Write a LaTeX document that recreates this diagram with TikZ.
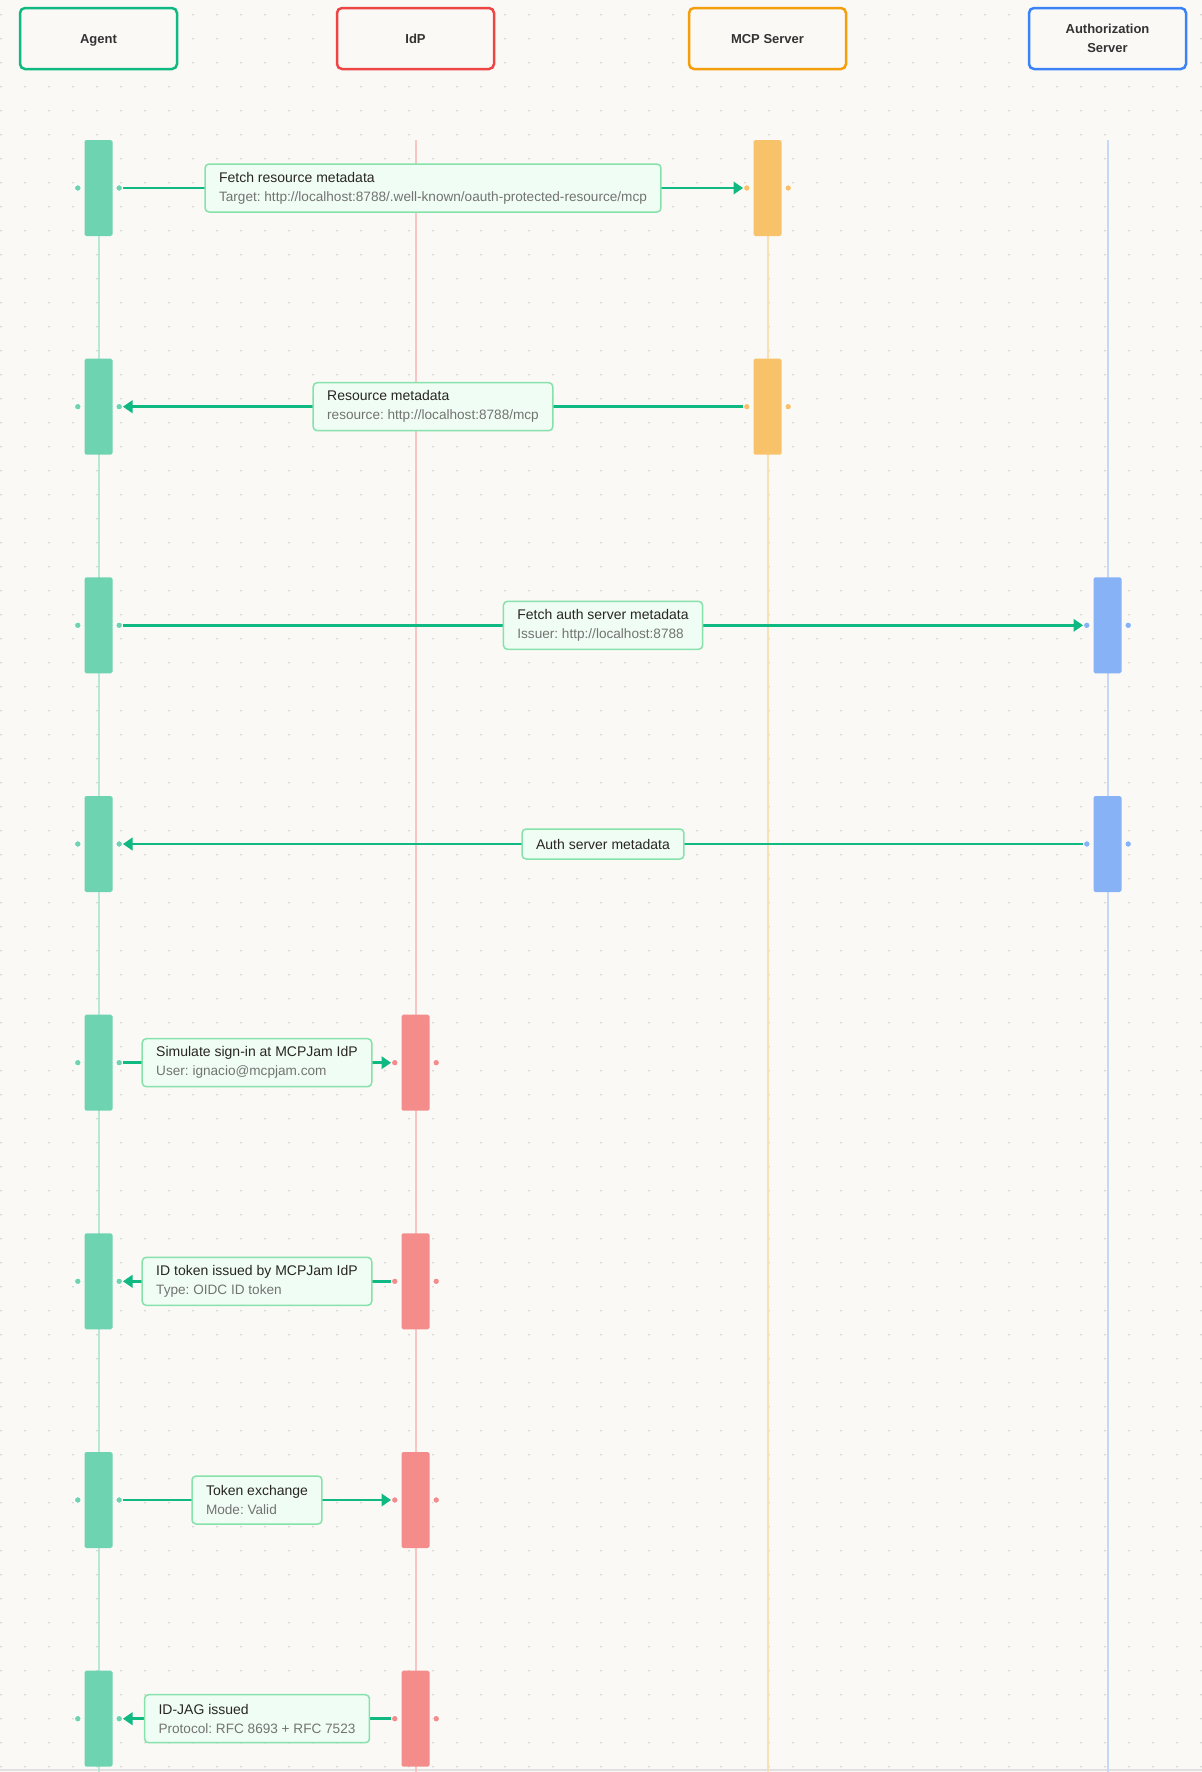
\documentclass[tikz,border=0pt]{standalone}
\usepackage{fontspec}
\setmainfont{Liberation Sans}
\frenchspacing
\usetikzlibrary{arrows.meta, positioning}
\definecolor{canvas}{RGB}{250,249,246}
\definecolor{griddot}{RGB}{204,204,202}
\definecolor{agentgreen}{RGB}{16,185,129}
\definecolor{idpred}{RGB}{239,68,68}
\definecolor{mcporange}{RGB}{245,158,11}
\definecolor{authblue}{RGB}{59,130,246}
\definecolor{notefill}{RGB}{240,253,244}
\definecolor{noteedge}{RGB}{134,226,170}
\definecolor{titletext}{RGB}{41,37,36}
\definecolor{subtext}{RGB}{115,115,115}
\definecolor{headtext}{RGB}{51,51,51}

\begin{document}
\begin{tikzpicture}[x=0.5pt, y=-0.5pt]
    % Define styles
    \tikzstyle{actorbox} = [rectangle, draw, line width=1.25pt, rounded corners=2.5pt,
                            fill=canvas, minimum width=78.5pt, minimum height=30.5pt,
                            align=center, text=headtext,
                            font=\fontsize{6.5}{9.5}\selectfont\bfseries]
    \tikzstyle{actor} = [actorbox, text height=4.7pt, text depth=0pt]
    \tikzstyle{actbar} = [rectangle, minimum width=14pt, minimum height=48pt,
                          inner sep=0pt, rounded corners=0.8pt]
    \tikzstyle{port} = [circle, draw=white, line width=0.4pt, minimum size=3.3pt, inner sep=0pt]
    \tikzstyle{life} = [line width=1pt]
    \tikzstyle{msg} = [draw=agentgreen, line width=1.25pt, -{Triangle[length=4.8pt, width=6.2pt]}]
    \tikzstyle{msgnote} = [rectangle, draw=noteedge, fill=notefill, line width=0.75pt,
                           rounded corners=2pt, align=left, inner xsep=7pt,
                           minimum height=24pt, text=titletext,
                           font=\fontsize{7}{9.5}\selectfont]

    % Canvas and dot grid
    \useasboundingbox (0,0) rectangle (1202,1772);
    \fill[canvas] (0,0) rectangle (1202,1772);
    \foreach \k in {0,...,73}
        \draw[griddot, line width=0.9pt, line cap=round, dash pattern=on 0pt off 12pt]
            (1,{14.7+24*\k}) -- (1202,{14.7+24*\k});
    \draw[black!12, line width=1pt] (0,1770) -- (1202,1770);

    % Lifelines
    \coordinate (agenttop) at (98.5,140);   \coordinate (agentend) at (98.5,1772);
    \coordinate (idptop) at (415.5,140);    \coordinate (idpend) at (415.5,1772);
    \coordinate (mcptop) at (767.5,140);    \coordinate (mcpend) at (767.5,1772);
    \coordinate (authtop) at (1107.5,140);  \coordinate (authend) at (1107.5,1772);
    \draw[life, agentgreen!28!canvas] (agenttop) -- (agentend);
    \draw[life, idpred!28!canvas] (idptop) -- (idpend);
    \draw[life, mcporange!28!canvas] (mcptop) -- (mcpend);
    \draw[life, authblue!28!canvas] (authtop) -- (authend);

    % Create participants
    \node[actor, draw=agentgreen] (agent) at (98.5,38.5) {Agent};
    \node[actor, draw=idpred] (idp) at (415.5,38.5) {IdP};
    \node[actor, draw=mcporange] (mcp) at (767.5,38.5) {MCP Server};
    \node[actorbox, draw=authblue] (auth) at (1107.5,38.5) {Authorization\\Server};

    % Activation bars
    \node[actbar, fill=agentgreen!60!canvas] (a1) at (98.5,188) {};
    \node[actbar, fill=agentgreen!60!canvas] (a2) at (98.5,406.7) {};
    \node[actbar, fill=agentgreen!60!canvas] (a3) at (98.5,625.3) {};
    \node[actbar, fill=agentgreen!60!canvas] (a4) at (98.5,844) {};
    \node[actbar, fill=agentgreen!60!canvas] (a5) at (98.5,1062.7) {};
    \node[actbar, fill=agentgreen!60!canvas] (a6) at (98.5,1281.3) {};
    \node[actbar, fill=agentgreen!60!canvas] (a7) at (98.5,1500) {};
    \node[actbar, fill=agentgreen!60!canvas] (a8) at (98.5,1718.7) {};
    \node[actbar, fill=mcporange!60!canvas] (m1) at (767.5,188) {};
    \node[actbar, fill=mcporange!60!canvas] (m2) at (767.5,406.7) {};
    \node[actbar, fill=authblue!60!canvas] (s3) at (1107.5,625.3) {};
    \node[actbar, fill=authblue!60!canvas] (s4) at (1107.5,844) {};
    \node[actbar, fill=idpred!60!canvas] (i5) at (415.5,1062.7) {};
    \node[actbar, fill=idpred!60!canvas] (i6) at (415.5,1281.3) {};
    \node[actbar, fill=idpred!60!canvas] (i7) at (415.5,1500) {};
    \node[actbar, fill=idpred!60!canvas] (i8) at (415.5,1718.7) {};

    % Ports beside the bars
    \node[port, fill=agentgreen!60!canvas, left=1.3pt of a1] (a1w) {};
    \node[port, fill=agentgreen!60!canvas, right=1.3pt of a1] (a1e) {};
    \node[port, fill=agentgreen!60!canvas, left=1.3pt of a2] (a2w) {};
    \node[port, fill=agentgreen!60!canvas, right=1.3pt of a2] (a2e) {};
    \node[port, fill=agentgreen!60!canvas, left=1.3pt of a3] (a3w) {};
    \node[port, fill=agentgreen!60!canvas, right=1.3pt of a3] (a3e) {};
    \node[port, fill=agentgreen!60!canvas, left=1.3pt of a4] (a4w) {};
    \node[port, fill=agentgreen!60!canvas, right=1.3pt of a4] (a4e) {};
    \node[port, fill=agentgreen!60!canvas, left=1.3pt of a5] (a5w) {};
    \node[port, fill=agentgreen!60!canvas, right=1.3pt of a5] (a5e) {};
    \node[port, fill=agentgreen!60!canvas, left=1.3pt of a6] (a6w) {};
    \node[port, fill=agentgreen!60!canvas, right=1.3pt of a6] (a6e) {};
    \node[port, fill=agentgreen!60!canvas, left=1.3pt of a7] (a7w) {};
    \node[port, fill=agentgreen!60!canvas, right=1.3pt of a7] (a7e) {};
    \node[port, fill=agentgreen!60!canvas, left=1.3pt of a8] (a8w) {};
    \node[port, fill=agentgreen!60!canvas, right=1.3pt of a8] (a8e) {};
    \node[port, fill=mcporange!60!canvas, left=1.3pt of m1] (m1w) {};
    \node[port, fill=mcporange!60!canvas, right=1.3pt of m1] (m1e) {};
    \node[port, fill=mcporange!60!canvas, left=1.3pt of m2] (m2w) {};
    \node[port, fill=mcporange!60!canvas, right=1.3pt of m2] (m2e) {};
    \node[port, fill=authblue!60!canvas, left=1.3pt of s3] (s3w) {};
    \node[port, fill=authblue!60!canvas, right=1.3pt of s3] (s3e) {};
    \node[port, fill=authblue!60!canvas, left=1.3pt of s4] (s4w) {};
    \node[port, fill=authblue!60!canvas, right=1.3pt of s4] (s4e) {};
    \node[port, fill=idpred!60!canvas, left=1.3pt of i5] (i5w) {};
    \node[port, fill=idpred!60!canvas, right=1.3pt of i5] (i5e) {};
    \node[port, fill=idpred!60!canvas, left=1.3pt of i6] (i6w) {};
    \node[port, fill=idpred!60!canvas, right=1.3pt of i6] (i6e) {};
    \node[port, fill=idpred!60!canvas, left=1.3pt of i7] (i7w) {};
    \node[port, fill=idpred!60!canvas, right=1.3pt of i7] (i7e) {};
    \node[port, fill=idpred!60!canvas, left=1.3pt of i8] (i8w) {};
    \node[port, fill=idpred!60!canvas, right=1.3pt of i8] (i8e) {};

    % Draw messages
    \draw[msg] (a1e) -- node[msgnote] (n1) {Fetch resource metadata\\
        {\fontsize{6.8}{9.5}\selectfont\color{subtext}Target: http://localhost:8788/.well-known/oauth-protected-resource/mcp}} (m1w);
    \draw[msg] (m2w) -- node[msgnote] (n2) {Resource metadata\\
        {\fontsize{6.8}{9.5}\selectfont\color{subtext}resource: http://localhost:8788/mcp}} (a2e);
    \draw[msg] (a3e) -- node[msgnote] (n3) {Fetch auth server metadata\\
        {\fontsize{6.8}{9.5}\selectfont\color{subtext}Issuer: http://localhost:8788}} (s3w);
    \draw[msg] (s4w) -- node[msgnote, minimum height=15pt] (n4) {Auth server metadata} (a4e);
    \draw[msg] (a5e) -- node[msgnote] (n5) {Simulate sign-in at MCPJam IdP\\
        {\fontsize{6.8}{9.5}\selectfont\color{subtext}User: ignacio@mcpjam.com}} (i5w);
    \draw[msg] (i6w) -- node[msgnote] (n6) {ID token issued by MCPJam IdP\\
        {\fontsize{6.8}{9.5}\selectfont\color{subtext}Type: OIDC ID token}} (a6e);
    \draw[msg] (a7e) -- node[msgnote] (n7) {Token exchange\\
        {\fontsize{6.8}{9.5}\selectfont\color{subtext}Mode: Valid}} (i7w);
    \draw[msg] (i8w) -- node[msgnote] (n8) {ID-JAG issued\\
        {\fontsize{6.8}{9.5}\selectfont\color{subtext}Protocol: RFC 8693 + RFC 7523}} (a8e);
\end{tikzpicture}
\end{document}
